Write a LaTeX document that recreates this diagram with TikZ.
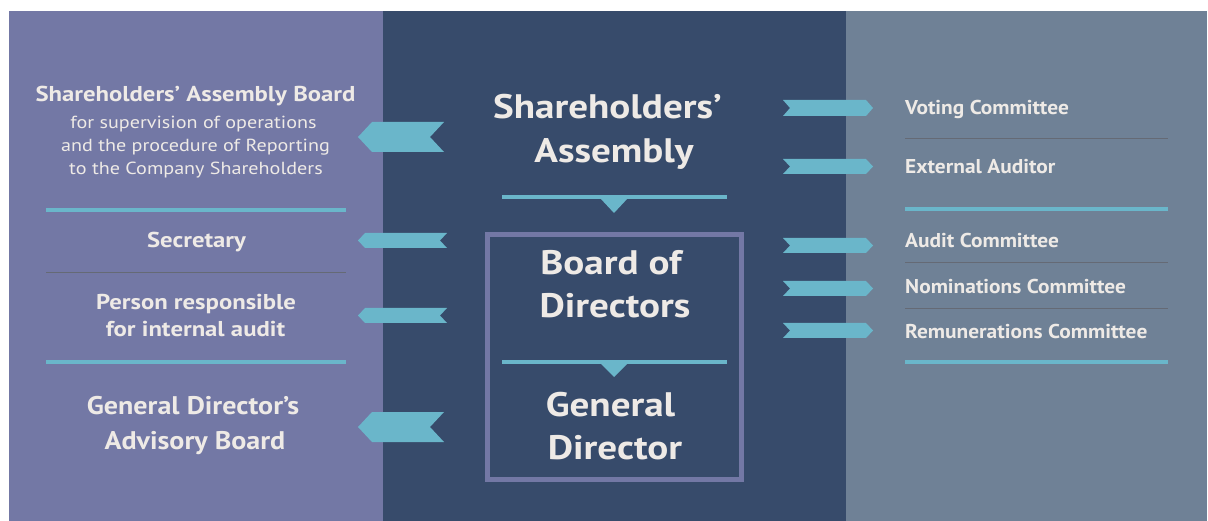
\documentclass[tikz,border=0pt]{standalone}
\usepackage{fontspec}
\setmainfont{PT Sans}
\definecolor{lpanel}{HTML}{7378A5}
\definecolor{cpanel}{HTML}{374B6B}
\definecolor{rpanel}{HTML}{6F8196}
\definecolor{cyanac}{HTML}{6AB6CA}
\definecolor{txt}{HTML}{EEEAE6}
\definecolor{sepgray}{HTML}{656A75}
\newcommand\lflag[5]{% x0 x1 ytop ybot depth
  \fill[cyanac] (#1,{(#3+#4)/2}) -- (#1+#5,#3) -- (#2,#3) -- (#2-#5,{(#3+#4)/2}) -- (#2,#4) -- (#1+#5,#4) -- cycle;}
\newcommand\rflag[5]{% x0(notch) x1(tip) ytop ybot depth
  \fill[cyanac] (#1,#3) -- (#2-#5,#3) -- (#2,{(#3+#4)/2}) -- (#2-#5,#4) -- (#1,#4) -- (#1+#5,{(#3+#4)/2}) -- cycle;}
\tikzset{
  every node/.style={text=txt, inner sep=0pt},
  bighead/.style={font=\fontsize{34}{44}\selectfont\bfseries\addfontfeature{FakeStretch=1.15}, anchor=base},
  lhead/.style={font=\fontsize{21.5}{26}\selectfont\bfseries\addfontfeature{FakeStretch=1.15}, anchor=base},
  lbig/.style={font=\fontsize{25.5}{32}\selectfont\bfseries\addfontfeature{FakeStretch=1.1}, anchor=base},
  lsub/.style={font=\fontsize{17.5}{23}\selectfont\addfontfeature{FakeStretch=1.15}, anchor=base},
  ritem/.style={font=\fontsize{20}{24}\selectfont\bfseries\addfontfeature{FakeStretch=1.07}, anchor=base west},
  cyanline/.style={draw=cyanac, line width=4pt},
  grayline/.style={draw=sepgray, line width=1pt},
}
\begin{document}
\begin{tikzpicture}[x=1pt,y=-1pt]
\useasboundingbox (0,0) rectangle (1208,521);
% panels
\fill[lpanel] (9,11) rectangle (383,521);
\fill[cpanel] (383,11) rectangle (846,521);
\fill[rpanel] (846,11) rectangle (1207,521);

% left column
\node[lhead] (sab) at (195.5,102) {Shareholders’ Assembly Board};
\node[lsub] (sab1) at (193.5,129) {for supervision of operations};
\node[lsub] (sab2) at (195.5,152) {and the procedure of Reporting};
\node[lsub] (sab3) at (196,175) {to the Company Shareholders};
\draw[cyanline] (46,210) -- (346,210);
\node[lhead] (sec) at (196.5,248) {Secretary};
\draw[grayline] (46,273) -- (346,273);
\node[lhead] (pri1) at (196,310) {Person responsible};
\node[lhead] (pri2) at (195.5,337) {for internal audit};
\draw[cyanline] (46,362) -- (346,362);
\node[lbig] (gda1) at (193,414) {General Director’s};
\node[lbig] (gda2) at (195,449) {Advisory Board};

% left flags
\lflag{358}{444}{122}{152}{14}
\lflag{358}{447}{233}{248}{7}
\lflag{358}{447}{308}{323}{7}
\lflag{358}{444}{412}{442}{14}

% center
\node[bighead] (sa1) at (607.5,119) {Shareholders’};
\node[bighead] (sa2) at (614,163) {Assembly};
\draw[cyanline] (502,197) -- (727,197);
\fill[cyanac] (600,198) -- (628,198) -- (614,213) -- cycle;
\draw[draw=lpanel, line width=4.5pt] (487.5,234.5) rectangle (741.5,479.5);
\node[bighead] (bd1) at (611,275) {Board of};
\node[bighead] (bd2) at (615,318) {Directors};
\draw[cyanline] (502,362) -- (727,362);
\fill[cyanac] (600,363) -- (628,363) -- (614,377) -- cycle;
\node[bighead] (gd1) at (610.5,416) {General};
\node[bighead] (gd2) at (615,459) {Director};

% right flags
\rflag{783}{873}{100}{116}{7}
\rflag{783}{873}{159}{174}{7}
\rflag{783}{873}{238}{253}{7}
\rflag{783}{873}{281}{296}{7}
\rflag{783}{873}{323}{338}{7}

% right column
\node[ritem] (vc) at (905,115) {Voting Committee};
\draw[grayline] (905,139) -- (1168,139);
\node[ritem] (ea) at (905,174) {External Auditor};
\draw[cyanline] (905,209) -- (1168,209);
\node[ritem] (ac) at (905,248) {Audit Committee};
\draw[grayline] (905,263) -- (1168,263);
\node[ritem] (nc) at (905,294) {Nominations Committee};
\draw[grayline] (905,309) -- (1168,309);
\node[ritem] (rc) at (905,339) {Remunerations Committee};
\draw[cyanline] (905,362) -- (1168,362);
\end{tikzpicture}
\end{document}
